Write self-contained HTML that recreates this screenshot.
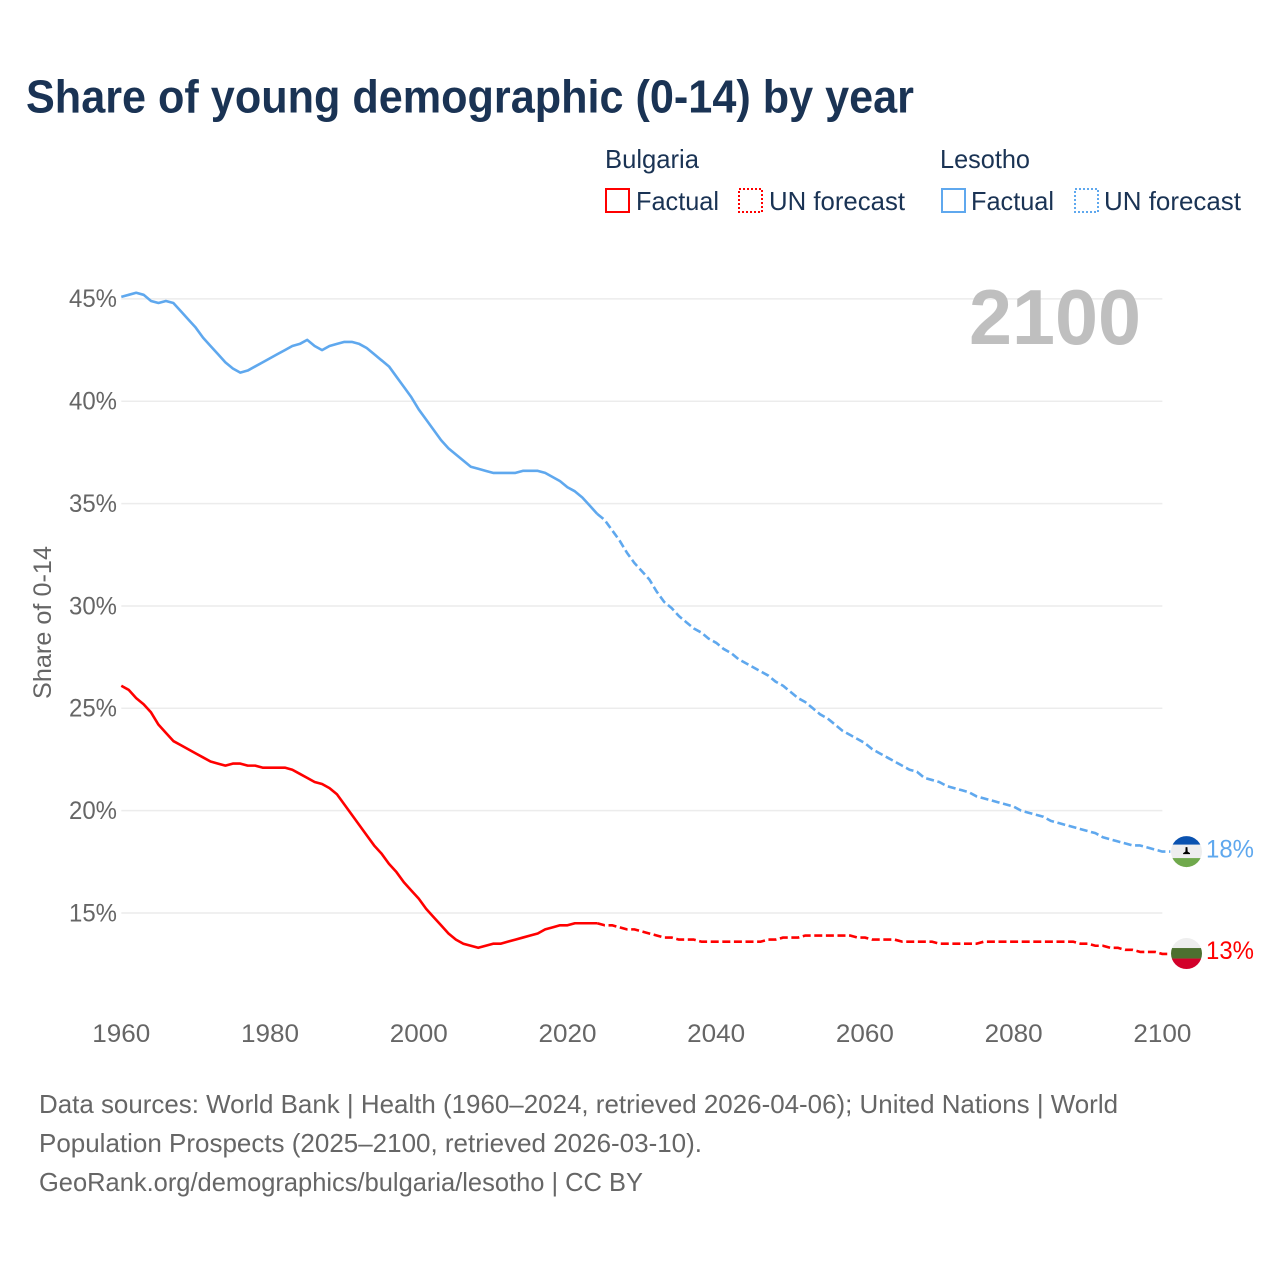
<!DOCTYPE html>
<html lang="en">
<head>
<meta charset="utf-8">
<title>Share of young demographic (0-14) by year</title>
<style>
html,body{margin:0;padding:0;background:#fff;}
svg{display:block;font-family:"Liberation Sans",sans-serif;}
</style>
</head>
<body>
<svg id="chart" xmlns="http://www.w3.org/2000/svg" width="1280" height="1280" viewBox="0 0 1280 1280">
  <rect x="0" y="0" width="1280" height="1280" fill="#ffffff"/>
  <text x="26" y="112.5" font-size="46" font-weight="700" fill="#1a3354" textLength="888" lengthAdjust="spacingAndGlyphs">Share of young demographic (0-14) by year</text>

  <g font-size="26" fill="#1a3354">
    <text x="605" y="168" textLength="94" lengthAdjust="spacingAndGlyphs">Bulgaria</text>
    <text x="940" y="168" textLength="90" lengthAdjust="spacingAndGlyphs">Lesotho</text>
    <rect x="606" y="189" width="23" height="23" fill="none" stroke="#ff0000" stroke-width="2"/>
    <text x="636" y="210" textLength="83" lengthAdjust="spacingAndGlyphs">Factual</text>
    <rect x="739" y="189" width="23" height="23" fill="none" stroke="#ff0000" stroke-width="2" stroke-dasharray="2 2"/>
    <text x="769" y="210" textLength="136" lengthAdjust="spacingAndGlyphs">UN forecast</text>
    <rect x="942" y="189" width="23" height="23" fill="none" stroke="#5fa8ee" stroke-width="2"/>
    <text x="971" y="210" textLength="83" lengthAdjust="spacingAndGlyphs">Factual</text>
    <rect x="1075" y="189" width="23" height="23" fill="none" stroke="#5fa8ee" stroke-width="2" stroke-dasharray="2 2"/>
    <text x="1104" y="210" textLength="137" lengthAdjust="spacingAndGlyphs">UN forecast</text>
  </g>

  <g id="grid"></g>
  <g id="yticks" font-size="25" fill="#666666" text-anchor="end"></g>
  <g id="xticks" font-size="25" fill="#666666" text-anchor="middle"></g>
  <text transform="translate(51,699) rotate(-90)" font-size="25" fill="#666666" textLength="153" lengthAdjust="spacingAndGlyphs">Share of 0-14</text>
  <text x="969" y="344" font-size="78" font-weight="700" fill="#bfbfbf" textLength="172" lengthAdjust="spacingAndGlyphs">2100</text>

  <g id="series"></g>

  <g id="flag-lesotho">
    <clipPath id="clip-ls"><circle cx="0" cy="0" r="15.5"/></clipPath>
    <g clip-path="url(#clip-ls)">
      <rect x="-16" y="-16" width="32" height="32" fill="#eeeeee"/>
      <rect x="-16" y="-16" width="32" height="9" fill="#0a52b0"/>
      <rect x="-16" y="6.5" width="32" height="10" fill="#70a94c"/>
      <path d="M-0.9 -4.5 h1.8 l0.3 4.5 l2.3 1.5 v1 h-6.9 v-1 l2.3 -1.5 z" fill="#000000"/>
    </g>
  </g>
  <g id="flag-bulgaria">
    <clipPath id="clip-bg"><circle cx="0" cy="0" r="15.5"/></clipPath>
    <g clip-path="url(#clip-bg)">
      <rect x="-16" y="-16" width="32" height="11" fill="#eeeeee"/>
      <rect x="-16" y="-5.5" width="32" height="10.5" fill="#4c7030"/>
      <rect x="-16" y="5" width="32" height="11" fill="#d2002a"/>
    </g>
  </g>
  <text id="end-label-lesotho" x="1206" y="858" font-size="25" fill="#5fa8ee" textLength="48" lengthAdjust="spacingAndGlyphs"></text>
  <text id="end-label-bulgaria" x="1206" y="959" font-size="25" fill="#ff0000" textLength="48" lengthAdjust="spacingAndGlyphs"></text>

  <g font-size="26" fill="#666666">
    <text x="39" y="1113" textLength="1079" lengthAdjust="spacingAndGlyphs">Data sources: World Bank | Health (1960–2024, retrieved 2026-04-06); United Nations | World</text>
    <text x="39" y="1152" textLength="663" lengthAdjust="spacingAndGlyphs">Population Prospects (2025–2100, retrieved 2026-03-10).</text>
    <text x="39" y="1191" textLength="604" lengthAdjust="spacingAndGlyphs">GeoRank.org/demographics/bulgaria/lesotho | CC BY</text>
  </g>
</svg>
<script>
const yTickValues = [45, 40, 35, 30, 25, 20, 15];
const yTickLabels = ["45%", "40%", "35%", "30%", "25%", "20%", "15%"];
const xTickYears = [1960, 1980, 2000, 2020, 2040, 2060, 2080, 2100];
const xTickLabels = ["1960", "1980", "2000", "2020", "2040", "2060", "2080", "2100"];
const factualStartYear = 1960;
const forecastStartYear = 2024;

const lesothoFactual = [
  45.1, 45.2, 45.3, 45.2, 44.9, 44.8, 44.9, 44.8, 44.4, 44.0,
  43.6, 43.1, 42.7, 42.3, 41.9, 41.6, 41.4, 41.5, 41.7, 41.9,
  42.1, 42.3, 42.5, 42.7, 42.8, 43.0, 42.7, 42.5, 42.7, 42.8,
  42.9, 42.9, 42.8, 42.6, 42.3, 42.0, 41.7, 41.2, 40.7, 40.2,
  39.6, 39.1, 38.6, 38.1, 37.7, 37.4, 37.1, 36.8, 36.7, 36.6,
  36.5, 36.5, 36.5, 36.5, 36.6, 36.6, 36.6, 36.5, 36.3, 36.1,
  35.8, 35.6, 35.3, 34.9, 34.5
];
const lesothoForecast = [
  34.5, 34.2, 33.7, 33.2, 32.6, 32.1, 31.7, 31.3, 30.7, 30.2,
  29.9, 29.5, 29.2, 28.9, 28.7, 28.4, 28.2, 27.9, 27.7, 27.4,
  27.2, 27.0, 26.8, 26.6, 26.3, 26.1, 25.8, 25.5, 25.3, 25.0,
  24.7, 24.5, 24.2, 23.9, 23.7, 23.5, 23.3, 23.0, 22.8, 22.6,
  22.4, 22.2, 22.0, 21.9, 21.6, 21.5, 21.4, 21.2, 21.1, 21.0,
  20.9, 20.7, 20.6, 20.5, 20.4, 20.3, 20.2, 20.0, 19.9, 19.8,
  19.7, 19.5, 19.4, 19.3, 19.2, 19.1, 19.0, 18.9, 18.7, 18.6,
  18.5, 18.4, 18.3, 18.3, 18.2, 18.1, 18.0
];
const bulgariaFactual = [
  26.1, 25.9, 25.5, 25.2, 24.8, 24.2, 23.8, 23.4, 23.2, 23.0,
  22.8, 22.6, 22.4, 22.3, 22.2, 22.3, 22.3, 22.2, 22.2, 22.1,
  22.1, 22.1, 22.1, 22.0, 21.8, 21.6, 21.4, 21.3, 21.1, 20.8,
  20.3, 19.8, 19.3, 18.8, 18.3, 17.9, 17.4, 17.0, 16.5, 16.1,
  15.7, 15.2, 14.8, 14.4, 14.0, 13.7, 13.5, 13.4, 13.3, 13.4,
  13.5, 13.5, 13.6, 13.7, 13.8, 13.9, 14.0, 14.2, 14.3, 14.4,
  14.4, 14.5, 14.5, 14.5, 14.5
];
const bulgariaForecast = [
  14.5, 14.4, 14.4, 14.3, 14.2, 14.2, 14.1, 14.0, 13.9, 13.8,
  13.8, 13.7, 13.7, 13.7, 13.6, 13.6, 13.6, 13.6, 13.6, 13.6,
  13.6, 13.6, 13.6, 13.7, 13.7, 13.8, 13.8, 13.8, 13.9, 13.9,
  13.9, 13.9, 13.9, 13.9, 13.9, 13.8, 13.8, 13.7, 13.7, 13.7,
  13.7, 13.6, 13.6, 13.6, 13.6, 13.6, 13.5, 13.5, 13.5, 13.5,
  13.5, 13.5, 13.6, 13.6, 13.6, 13.6, 13.6, 13.6, 13.6, 13.6,
  13.6, 13.6, 13.6, 13.6, 13.6, 13.5, 13.5, 13.4, 13.4, 13.3,
  13.3, 13.2, 13.2, 13.1, 13.1, 13.1, 13.0
];

const SVG_NS = "http://www.w3.org/2000/svg";
function xScale(year) { return 121.3 + (year - 1960) * 7.436; }
function yScale(v) { return 913 - (v - 15) * 20.47; }
function pathFrom(values, startYear, tail) {
  let d = values.map((v, i) => (i ? "L" : "M") + xScale(startYear + i).toFixed(2) + " " + yScale(v).toFixed(2)).join(" ");
  if (tail) {
    d += " L" + (xScale(startYear + values.length - 1) + tail).toFixed(2) + " " + yScale(values[values.length - 1]).toFixed(2);
  }
  return d;
}

const gridGroup = document.getElementById("grid");
const yTickGroup = document.getElementById("yticks");
yTickValues.forEach((v, i) => {
  const line = document.createElementNS(SVG_NS, "line");
  
  
  line.setAttribute("x1", xScale(1960));
  line.setAttribute("x2", xScale(2100));
  line.setAttribute("y1", yScale(v));
  line.setAttribute("y2", yScale(v));
  line.setAttribute("stroke", "#ececec");
  line.setAttribute("stroke-width", "1.5");
  gridGroup.appendChild(line);
  const t = document.createElementNS(SVG_NS, "text");
  
  
  t.setAttribute("x", 117);
  t.setAttribute("y", yScale(v) + 8.3);
  t.setAttribute("textLength", "48");
  t.setAttribute("lengthAdjust", "spacingAndGlyphs");
  t.textContent = yTickLabels[i];
  yTickGroup.appendChild(t);
});

const xTickGroup = document.getElementById("xticks");
xTickYears.forEach((yr, i) => {
  const t = document.createElementNS(SVG_NS, "text");
  
  
  t.setAttribute("x", xScale(yr));
  t.setAttribute("y", 1042);
  t.setAttribute("textLength", "58");
  t.setAttribute("lengthAdjust", "spacingAndGlyphs");
  t.textContent = xTickLabels[i];
  xTickGroup.appendChild(t);
});

const seriesGroup = document.getElementById("series");
function addLine(name, d, color, dashed) {
  const p = document.createElementNS(SVG_NS, "path");
  
  
  p.setAttribute("d", d);
  p.setAttribute("fill", "none");
  p.setAttribute("stroke", color);
  p.setAttribute("stroke-width", "2.6");
  p.setAttribute("stroke-linejoin", "round");
  if (dashed) p.setAttribute("stroke-dasharray", "8 3.6");
  seriesGroup.appendChild(p);
}
addLine("lesotho-factual-line", pathFrom(lesothoFactual, factualStartYear), "#5fa8ee", false);
addLine("lesotho-forecast-line", pathFrom(lesothoForecast, forecastStartYear, 8), "#5fa8ee", true);
addLine("bulgaria-factual-line", pathFrom(bulgariaFactual, factualStartYear), "#ff0000", false);
addLine("bulgaria-forecast-line", pathFrom(bulgariaForecast, forecastStartYear, 8), "#ff0000", true);

const lastLesotho = lesothoForecast[lesothoForecast.length - 1];
const lastBulgaria = bulgariaForecast[bulgariaForecast.length - 1];
document.getElementById("flag-lesotho").setAttribute("transform", "translate(1186.5," + yScale(lastLesotho).toFixed(2) + ")");
document.getElementById("flag-bulgaria").setAttribute("transform", "translate(1186.5," + (yScale(lastBulgaria) - 0.4).toFixed(2) + ")");
const endLs = document.getElementById("end-label-lesotho");
endLs.textContent = Math.round(lastLesotho) + "%";
endLs.setAttribute("y", (yScale(lastLesotho) + 6).toFixed(2));
const endBg = document.getElementById("end-label-bulgaria");
endBg.textContent = Math.round(lastBulgaria) + "%";
endBg.setAttribute("y", (yScale(lastBulgaria) + 5).toFixed(2));
</script>
</body>
</html>
